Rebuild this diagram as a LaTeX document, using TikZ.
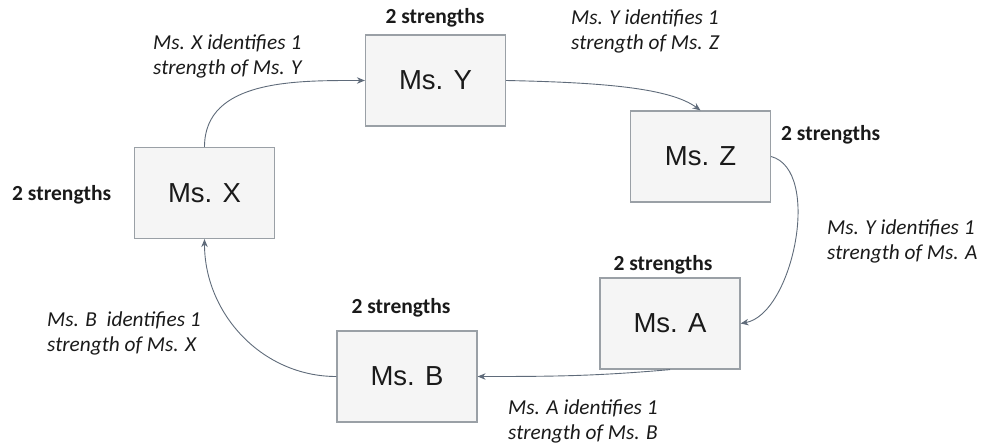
\documentclass[tikz,border=0pt]{standalone}
\usepackage{fontspec}
\setmainfont{Carlito}
\newfontfamily\boxfont{Liberation Sans}
\usetikzlibrary{arrows.meta}
\definecolor{boxfill}{HTML}{F5F5F5}
\definecolor{boxgray}{HTML}{9AA0A6}
\definecolor{arrowgray}{HTML}{5F6B7A}
\definecolor{txt}{HTML}{1A1A1A}
\begin{document}
\begin{tikzpicture}[x=1pt,y=1pt,
 person/.style={draw=boxgray, fill=boxfill, line width=1.2pt, minimum width=140pt, minimum height=91pt, inner sep=0pt, text=txt, font=\boxfont\fontsize{27.5}{30}\selectfont},
 cnt/.style={font=\bfseries\fontsize{21.5}{24}\selectfont, inner sep=0pt, text=txt},
 lbl/.style={font=\itshape\fontsize{21.3}{25}\selectfont, align=left, inner sep=0pt, anchor=west, text=txt},
 conn/.style={draw=arrowgray, line width=0.9pt, -{Stealth[length=8pt,width=6.5pt]}}]
\useasboundingbox (0,0) rectangle (983,-445);
\node[person] (X) at (204.5,-193) {Ms. X};
\node[person] (Y) at (435.5,-80.5) {Ms. Y};
\node[person] (Z) at (700.5,-156.5) {Ms. Z};
\node[person] (A) at (670,-323.5) {Ms. A};
\node[person] (B) at (407,-376.5) {Ms. B};
\node[cnt] (cY) at (435,-18) {2 strengths};
\node[cnt, anchor=west] (cZ) at (781,-135) {2 strengths};
\node[cnt, anchor=west] (cX) at (12,-195) {2 strengths};
\node[cnt] (cA) at (663,-265) {2 strengths};
\node[cnt] (cB) at (401,-308) {2 strengths};
\node[lbl] (lXY) at (153,-56.5) {Ms. X identifies 1\\strength of Ms. Y};
\node[lbl] (lYZ) at (571,-31) {Ms. Y identifies 1\\strength of Ms. Z};
\node[lbl] (lZA) at (827,-241) {Ms. Y identifies 1\\strength of Ms. A};
\node[lbl] (lBX) at (47,-333.5) {Ms. B\ \ identifies 1\\strength of Ms. X};
\node[lbl] (lAB) at (508,-421.5) {Ms. A identifies 1\\strength of Ms. B};
\draw[conn] (X.north) to[out=90,in=180] (Y.west);
\draw[conn] (Y.east) .. controls +(100,-2) and +(-30,22) .. (Z.north);
\draw[conn] (Z.east) to[out=-15,in=10,looseness=0.8] (A.east);
\draw[conn] (A.south) to[out=185,in=0] (B.east);
\draw[conn] (B.west) to[out=180,in=-90] (X.south);
\end{tikzpicture}
\end{document}
